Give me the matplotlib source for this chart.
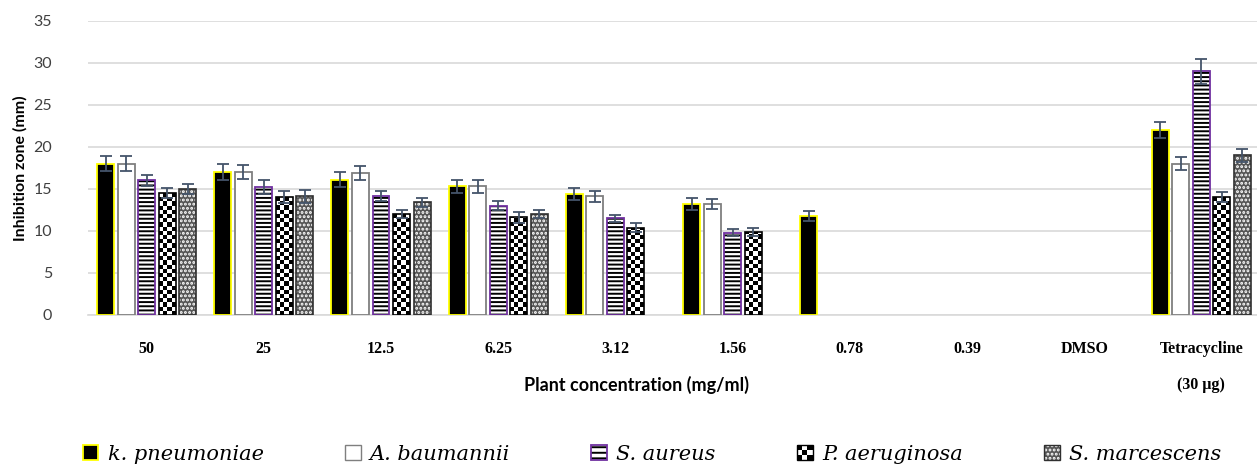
import numpy as np
import matplotlib
matplotlib.use("Agg")
import matplotlib.pyplot as plt
from matplotlib.patches import Patch, Rectangle
from matplotlib.legend_handler import HandlerBase, HandlerTuple

# concentrations on the x axis
categories = ['50', '25', '12.5', '6.25', '3.12', '1.56', '0.78', '0.39', 'DMSO',
              'Tetracycline\n(30 µg)']
nan = np.nan

# inhibition zone (mm), nan = no zone
kpn = [18.0, 17.0, 16.1, 15.3, 14.4, 13.2, 11.8, nan, nan, 22.0]
aba = [18.0, 17.0, 16.9, 15.3, 14.1, 13.2, nan, nan, nan, 18.0]
sau = [16.0, 15.2, 14.1, 13.0, 11.5, 9.8, nan, nan, nan, 29.0]
pae = [14.5, 14.0, 12.0, 11.6, 10.4, 9.9, nan, nan, nan, 14.0]
sma = [15.0, 14.1, 13.4, 12.0, nan, nan, nan, nan, nan, 19.0]

kpn_err = [0.9, 0.9, 0.9, 0.8, 0.7, 0.7, 0.6, nan, nan, 1.0]
aba_err = [0.9, 0.85, 0.8, 0.8, 0.7, 0.6, nan, nan, nan, 0.8]
sau_err = [0.7, 0.8, 0.6, 0.5, 0.45, 0.4, nan, nan, nan, 1.5]
pae_err = [0.6, 0.7, 0.5, 0.6, 0.5, 0.45, nan, nan, nan, 0.6]
sma_err = [0.6, 0.8, 0.5, 0.5, nan, nan, nan, nan, nan, 0.8]

names = ['k. pneumoniae', 'A. baumannii', 'S. aureus', 'P. aeruginosa', 'S. marcescens']

plt.rcParams['hatch.linewidth'] = 1.4

fig = plt.figure(figsize=(12.57, 4.66), dpi=100)
ax = fig.add_axes([88 / 1257, 151 / 466, 1172 / 1257, 294.3 / 466])

x = np.arange(len(categories))
pitch = 0.175
width = 0.145
errcol = '#44546a'
sma_face = '#555555'

series = [kpn, aba, sau, pae, sma]
errors = [kpn_err, aba_err, sau_err, pae_err, sma_err]

for i, (vals, errs) in enumerate(zip(series, errors)):
    vals = np.array(vals, dtype=float)
    errs = np.array(errs, dtype=float)
    ok = ~np.isnan(vals)
    xs = x[ok] + (i - 2) * pitch
    hs = vals[ok]
    if i == 0:
        ax.bar(xs, hs, width, color='black', edgecolor='#ffff00', linewidth=1.3, zorder=3)
    elif i == 1:
        ax.bar(xs, hs, width, color='white', edgecolor='#7f7f7f', linewidth=1.3, zorder=3)
    elif i == 2:
        ax.bar(xs, hs, width, color='white', edgecolor='black', hatch='----', linewidth=0, zorder=3)
        ax.bar(xs, hs, width, fill=False, edgecolor='#7030a0', linewidth=1.3, zorder=4)
    elif i == 3:
        # checkerboard fill, clipped to each bar
        bars = ax.bar(xs, hs, width, color='white', linewidth=0, zorder=3)
        cell_w = width / 4
        cell_h = 0.5
        for b in bars:
            rows = int(np.ceil(b.get_height() / cell_h))
            cb = np.indices((rows, 4)).sum(axis=0) % 2
            im = ax.imshow(cb, cmap='gray_r', vmin=0, vmax=1, interpolation='nearest',
                           aspect='auto', origin='lower', zorder=3.5,
                           extent=[b.get_x(), b.get_x() + 4 * cell_w, 0, rows * cell_h])
            im.set_clip_path(b)
        ax.bar(xs, hs, width, fill=False, edgecolor='black', linewidth=1.2, zorder=4)
    else:
        ax.bar(xs, hs, width, color=sma_face, edgecolor='white', hatch='....', linewidth=0, zorder=3)
        ax.bar(xs, hs, width, fill=False, edgecolor='#303030', linewidth=1.2, zorder=4)
    ax.errorbar(xs, hs, yerr=errs[ok], fmt='none', ecolor=errcol, elinewidth=1.3,
                capsize=4, capthick=1.3, zorder=5)

ax.set_xlim(-0.5, 9.5)
ax.set_ylim(0, 35)
ax.set_yticks(np.arange(0, 36, 5))
ax.yaxis.grid(True, color='#d9d9d9', linewidth=1.2, zorder=0)
ax.set_axisbelow(True)
for s in ['top', 'right', 'left']:
    ax.spines[s].set_visible(False)
ax.spines['bottom'].set_color('#d9d9d9')
ax.spines['bottom'].set_linewidth(1.2)
ax.tick_params(axis='both', length=0)
ax.tick_params(axis='y', pad=26, labelsize=11.5, labelcolor='#404040')
for t in ax.get_yticklabels():
    t.set_family('Lato')

ax.set_xticks(x)
ax.set_xticklabels(categories, family='Liberation Serif', fontweight='bold', fontsize=11.5,
                   va='top', linespacing=2.6)
ax.tick_params(axis='x', pad=19)

ax.set_ylabel('Inhibition zone (mm)', family='Lato', fontweight='bold', fontsize=11.5,
              labelpad=4)
fig.text(636 / 1257, 1 - 385 / 466, 'Plant concentration (mg/ml)', family='Lato',
         fontweight='bold', fontsize=13, ha='center', va='center')


class CheckerHandler(HandlerBase):
    def create_artists(self, legend, orig_handle, xdescent, ydescent, width, height,
                       fontsize, trans):
        arts = [Rectangle((-xdescent, -ydescent), width, height, facecolor='white',
                          edgecolor='none', transform=trans)]
        n = 3
        cw, ch = width / n, height / n
        for r in range(n):
            for c in range(n):
                if (r + c) % 2 == 0:
                    arts.append(Rectangle((-xdescent + c * cw, -ydescent + r * ch), cw, ch,
                                          facecolor='black', edgecolor='none',
                                          transform=trans))
        arts.append(Rectangle((-xdescent, -ydescent), width, height, fill=False,
                              edgecolor='black', linewidth=1.0, transform=trans))
        return arts


class CheckerKey:
    pass


h_kpn = Patch(facecolor='black', edgecolor='#ffff00', linewidth=1.3)
h_aba = Patch(facecolor='white', edgecolor='#7f7f7f', linewidth=1.0)
h_sau = (Patch(facecolor='white', edgecolor='black', hatch='---', linewidth=0),
         Patch(fill=False, edgecolor='#7030a0', linewidth=1.3))
h_pae = CheckerKey()
h_sma = (Patch(facecolor=sma_face, edgecolor='white', hatch='....', linewidth=0),
         Patch(fill=False, edgecolor='#303030', linewidth=1.0))

fig.legend([h_kpn, h_aba, h_sau, h_pae, h_sma], names,
           handler_map={CheckerKey: CheckerHandler(), tuple: HandlerTuple(ndivide=1)},
           loc='center', bbox_to_anchor=(652 / 1257, 1 - 454 / 466), ncol=5,
           frameon=False, prop={'family': 'DejaVu Serif', 'style': 'italic', 'size': 15},
           handlelength=0.75, handleheight=0.75, handletextpad=0.45, columnspacing=3.9,
           borderpad=0)

fig.savefig('out.png', dpi=100)
